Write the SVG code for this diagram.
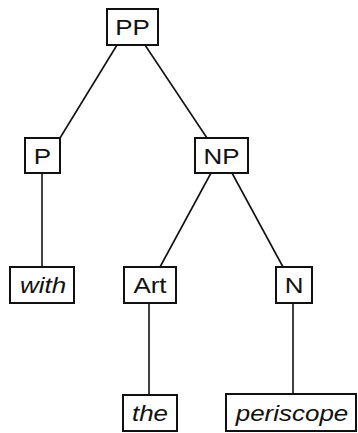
<svg xmlns="http://www.w3.org/2000/svg" width="358" height="433" viewBox="0 0 358 433">
<style>
.box{fill:#fff;stroke:#111;stroke-width:2}
.t{font-family:"Liberation Sans",Arial,sans-serif;font-size:22px;fill:#111;text-anchor:middle}
.i{font-style:italic}
.e{stroke:#111;stroke-width:1.6;fill:none}
</style>
<rect width="358" height="433" fill="#fff"/>
<g id="edges">
<line class="e" x1="117" y1="45" x2="60" y2="138"/>
<line class="e" x1="145" y1="45" x2="207" y2="138"/>
<line class="e" x1="42" y1="173" x2="42" y2="267"/>
<line class="e" x1="211" y1="173" x2="160" y2="267"/>
<line class="e" x1="232" y1="173" x2="283" y2="267"/>
<line class="e" x1="149" y1="303" x2="149" y2="395"/>
<line class="e" x1="293" y1="303" x2="293" y2="394"/>
</g>
<g id="PP"><rect class="box" x="107" y="9" width="51" height="36"/><text class="t" transform="translate(132.5,35) scale(1.18,1)">PP</text></g>
<g id="P"><rect class="box" x="25" y="138" width="35" height="35"/><text class="t" transform="translate(42.5,163.5) scale(1.18,1)">P</text></g>
<g id="NP"><rect class="box" x="195" y="138" width="53" height="35"/><text class="t" transform="translate(221.5,163.5) scale(1.18,1)">NP</text></g>
<g id="with"><rect class="box" x="10" y="267" width="64" height="36"/><text class="t i" transform="translate(43,293) scale(1.18,1)">with</text></g>
<g id="Art"><rect class="box" x="124" y="267" width="52" height="36"/><text class="t" transform="translate(150,293) scale(1.18,1)">Art</text></g>
<g id="N"><rect class="box" x="276" y="267" width="36" height="36"/><text class="t" transform="translate(294,293) scale(1.18,1)">N</text></g>
<g id="the"><rect class="box" x="123" y="395" width="54" height="36"/><text class="t i" transform="translate(150,421) scale(1.18,1)">the</text></g>
<g id="periscope"><rect class="box" x="226" y="394" width="130" height="37"/><text class="t i" transform="translate(292,420.5) scale(1.18,1)">periscope</text></g>
</svg>
